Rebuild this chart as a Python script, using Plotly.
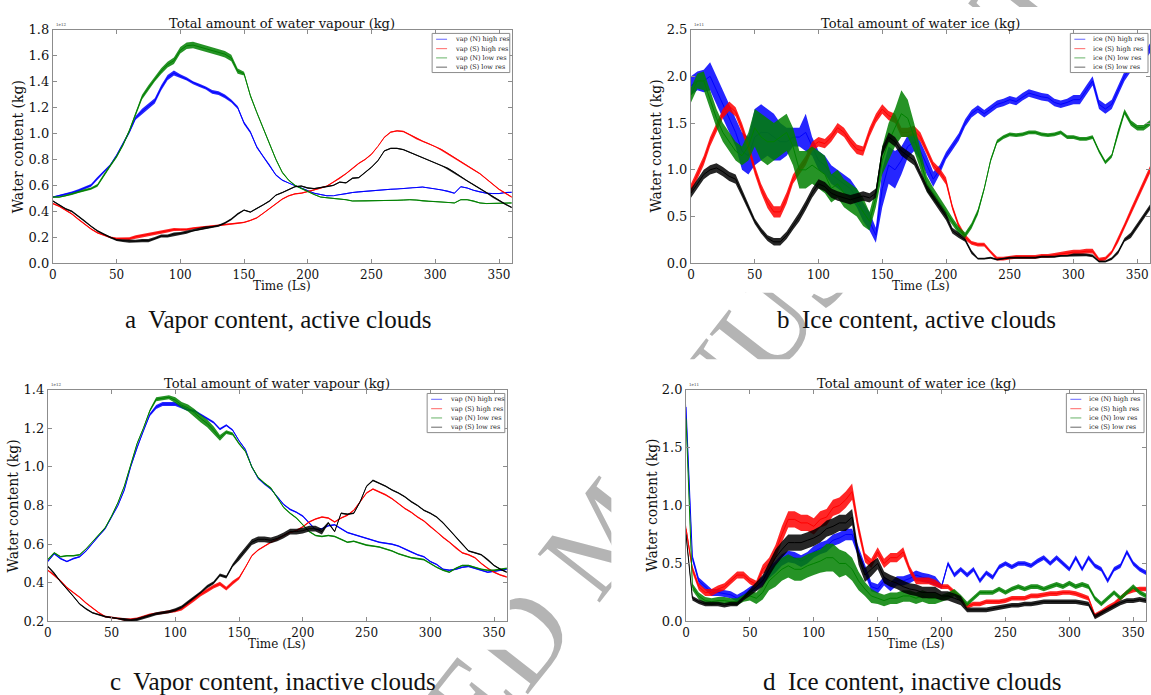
import plotly.graph_objects as go

# Solar longitude grid (degrees), one sample every 5 Ls
LS = list(range(0, 361, 5))

SERIES_NAMES_VAP = ["vap (N) high res", "vap (S) high res", "vap (N) low res", "vap (S) low res"]
SERIES_NAMES_ICE = ["ice (N) high res", "ice (S) high res", "ice (N) low res", "ice (S) low res"]

# ---------------- (a) vapour, active clouds  [x 1e12 kg] ----------------
a_vap_n_hi = [0.51, 0.52, 0.53, 0.545, 0.56, 0.58, 0.60, 0.655, 0.705, 0.755,
              0.83, 0.92, 1.01, 1.12, 1.17, 1.21, 1.25, 1.35, 1.43, 1.465,
              1.44, 1.42, 1.39, 1.37, 1.35, 1.32, 1.31, 1.285, 1.25, 1.20,
              1.08, 1.01, 0.895, 0.82, 0.755, 0.68, 0.64, 0.617, 0.597, 0.58,
              0.56, 0.54, 0.53, 0.52, 0.52, 0.53, 0.535, 0.545, 0.55, 0.555,
              0.56, 0.563, 0.567, 0.57, 0.572, 0.575, 0.58, 0.585, 0.587, 0.58,
              0.574, 0.565, 0.555, 0.54, 0.59, 0.58, 0.562, 0.55, 0.54, 0.537,
              0.537, 0.545, 0.547]
a_vap_s_hi = [0.46, 0.44, 0.41, 0.38, 0.34, 0.30, 0.265, 0.235, 0.215, 0.20,
              0.19, 0.19, 0.19, 0.205, 0.215, 0.225, 0.235, 0.24, 0.25, 0.26,
              0.26, 0.26, 0.27, 0.275, 0.28, 0.29, 0.295, 0.30, 0.305, 0.31,
              0.315, 0.33, 0.35, 0.385, 0.42, 0.46, 0.495, 0.52, 0.535, 0.54,
              0.55, 0.565, 0.58, 0.595, 0.625, 0.655, 0.69, 0.73, 0.77, 0.80,
              0.84, 0.90, 0.97, 1.01, 1.02, 1.015, 0.99, 0.96, 0.94, 0.92,
              0.90, 0.875, 0.845, 0.815, 0.78, 0.75, 0.72, 0.69, 0.65, 0.61,
              0.57, 0.54, 0.51]
a_vap_n_lo = [0.51, 0.51, 0.52, 0.535, 0.55, 0.565, 0.575, 0.60, 0.68, 0.75,
              0.82, 0.91, 1.02, 1.15, 1.28, 1.35, 1.42, 1.48, 1.53, 1.56,
              1.64, 1.675, 1.68, 1.665, 1.65, 1.64, 1.625, 1.61, 1.58, 1.48,
              1.46, 1.29, 1.16, 1.04, 0.92, 0.80, 0.70, 0.64, 0.60, 0.575,
              0.55, 0.53, 0.51, 0.505, 0.50, 0.497, 0.49, 0.48, 0.48, 0.48,
              0.48, 0.483, 0.485, 0.485, 0.485, 0.487, 0.49, 0.487, 0.48, 0.478,
              0.475, 0.472, 0.47, 0.465, 0.49, 0.49, 0.48, 0.465, 0.46, 0.46,
              0.46, 0.463, 0.465]
a_vap_s_lo = [0.48, 0.45, 0.42, 0.40, 0.365, 0.325, 0.285, 0.25, 0.225, 0.20,
              0.18, 0.175, 0.17, 0.17, 0.175, 0.175, 0.19, 0.21, 0.21, 0.225,
              0.23, 0.24, 0.255, 0.265, 0.275, 0.28, 0.29, 0.31, 0.34, 0.38,
              0.41, 0.395, 0.42, 0.45, 0.48, 0.525, 0.545, 0.565, 0.59, 0.595,
              0.58, 0.575, 0.585, 0.59, 0.60, 0.625, 0.62, 0.655, 0.66, 0.70,
              0.74, 0.79, 0.865, 0.885, 0.885, 0.875, 0.855, 0.83, 0.815, 0.795,
              0.775, 0.755, 0.73, 0.70, 0.665, 0.635, 0.605, 0.575, 0.545, 0.51,
              0.48, 0.455, 0.43]
# spread (half width of the fluctuation band) of each series
a_spr_n_hi = [0.005, 0.006, 0.008, 0.008, 0.01, 0.01, 0.01, 0.01, 0.008, 0.008,
              0.01, 0.01, 0.012, 0.015, 0.02, 0.02, 0.02, 0.02, 0.02, 0.02,
              0.015, 0.012, 0.012, 0.012, 0.012, 0.015, 0.015, 0.015, 0.012, 0.012,
              0.012, 0.01, 0.01, 0.01, 0.008, 0.006, 0.005, 0.004, 0.004, 0.004,
              0.004, 0.004, 0.004, 0.004, 0.004, 0.004, 0.004, 0.004, 0.004, 0.004,
              0.004, 0.004, 0.004, 0.004, 0.004, 0.004, 0.004, 0.004, 0.004, 0.004,
              0.004, 0.004, 0.004, 0.004, 0.004, 0.004, 0.004, 0.004, 0.004, 0.004,
              0.004, 0.004, 0.004]
a_spr_s_hi = [0.006, 0.006, 0.006, 0.006, 0.006, 0.006, 0.006, 0.006, 0.006, 0.006,
              0.008, 0.008, 0.01, 0.012, 0.012, 0.012, 0.012, 0.012, 0.012, 0.012,
              0.01, 0.01, 0.008, 0.008, 0.008, 0.008, 0.008, 0.008, 0.008, 0.008,
              0.005, 0.005, 0.005, 0.005, 0.005, 0.005, 0.005, 0.005, 0.005, 0.005,
              0.005, 0.005, 0.005, 0.005, 0.005, 0.005, 0.005, 0.005, 0.005, 0.005,
              0.005, 0.005, 0.005, 0.005, 0.005, 0.005, 0.005, 0.005, 0.005, 0.005,
              0.005, 0.005, 0.005, 0.005, 0.005, 0.005, 0.005, 0.005, 0.005, 0.005,
              0.005, 0.005, 0.005]
a_spr_n_lo = [0.005, 0.005, 0.006, 0.008, 0.008, 0.008, 0.008, 0.01, 0.01, 0.01,
              0.01, 0.01, 0.012, 0.015, 0.018, 0.02, 0.02, 0.022, 0.022, 0.025,
              0.025, 0.025, 0.025, 0.025, 0.025, 0.025, 0.025, 0.025, 0.025, 0.02,
              0.015, 0.012, 0.012, 0.012, 0.01, 0.008, 0.006, 0.005, 0.004, 0.004,
              0.004, 0.004, 0.004, 0.004, 0.004, 0.004, 0.004, 0.004, 0.004, 0.004,
              0.004, 0.004, 0.004, 0.004, 0.004, 0.004, 0.004, 0.004, 0.004, 0.004,
              0.004, 0.004, 0.004, 0.004, 0.004, 0.004, 0.004, 0.004, 0.004, 0.004,
              0.004, 0.004, 0.004]
a_spr_s_lo = [0.006, 0.006, 0.006, 0.006, 0.006, 0.006, 0.006, 0.006, 0.006, 0.006,
              0.008, 0.01, 0.012, 0.012, 0.012, 0.012, 0.012, 0.012, 0.012, 0.012,
              0.012, 0.012, 0.01, 0.01, 0.01, 0.008, 0.008, 0.008, 0.008, 0.008,
              0.005, 0.005, 0.005, 0.005, 0.005, 0.005, 0.005, 0.005, 0.005, 0.005,
              0.005, 0.005, 0.005, 0.005, 0.005, 0.005, 0.005, 0.005, 0.005, 0.005,
              0.005, 0.005, 0.005, 0.005, 0.005, 0.005, 0.005, 0.005, 0.005, 0.005,
              0.005, 0.005, 0.005, 0.005, 0.005, 0.005, 0.005, 0.005, 0.005, 0.005,
              0.005, 0.005, 0.005]

# ---------------- (b) ice, active clouds  [x 1e11 kg] ----------------
b_ice_n_hi = [1.9, 1.95, 1.95, 2.0, 1.85, 1.7, 1.55, 1.4, 1.2, 1.15,
              1.35, 1.4, 1.4, 1.35, 1.3, 1.3, 1.35, 1.35, 1.4, 1.25,
              1.1, 1.05, 0.95, 0.9, 0.85, 0.8, 0.7, 0.55, 0.45, 0.3,
              0.8, 1.05, 1.0, 1.1, 1.25, 1.3, 1.2, 1.05, 0.9, 1.0,
              1.15, 1.25, 1.35, 1.5, 1.6, 1.65, 1.6, 1.65, 1.7, 1.72,
              1.75, 1.73, 1.78, 1.82, 1.8, 1.78, 1.77, 1.72, 1.7, 1.72,
              1.75, 1.75, 1.85, 1.95, 1.7, 1.65, 1.7, 1.85, 2.0, 2.1,
              2.1, 2.2, 2.3]
b_ice_s_hi = [0.8, 0.95, 1.1, 1.3, 1.45, 1.6, 1.68, 1.62, 1.45, 1.25,
              1.0, 0.8, 0.65, 0.55, 0.55, 0.7, 0.9, 1.0, 1.1, 1.25,
              1.3, 1.28, 1.35, 1.45, 1.4, 1.3, 1.22, 1.2, 1.4, 1.55,
              1.65, 1.58, 1.55, 1.4, 1.4, 1.42, 1.35, 1.2, 1.05, 0.98,
              0.88, 0.6, 0.4, 0.28, 0.22, 0.2, 0.2, 0.12, 0.05, 0.05,
              0.06, 0.07, 0.07, 0.07, 0.07, 0.08, 0.08, 0.09, 0.1, 0.11,
              0.12, 0.12, 0.13, 0.13, 0.04, 0.05, 0.12, 0.25, 0.4, 0.55,
              0.7, 0.85, 1.0]
b_ice_n_lo = [1.8, 1.95, 1.95, 1.75, 1.55, 1.4, 1.3, 1.2, 1.15, 1.25,
              1.45, 1.35, 1.3, 1.3, 1.35, 1.4, 1.25, 1.0, 1.0, 1.05,
              1.0, 0.95, 0.8, 0.85, 0.75, 0.7, 0.65, 0.55, 0.45, 0.7,
              1.1, 1.3, 1.45, 1.6, 1.55, 1.35, 1.1, 0.85, 0.75, 0.65,
              0.55, 0.45, 0.35, 0.3, 0.4, 0.55, 0.8, 1.1, 1.3, 1.35,
              1.38, 1.37, 1.38, 1.4, 1.4, 1.38, 1.37, 1.38, 1.4, 1.35,
              1.35, 1.33, 1.33, 1.35, 1.2, 1.08, 1.15, 1.4, 1.62, 1.5,
              1.45, 1.45, 1.5]
b_ice_s_lo = [0.75, 0.85, 0.95, 1.0, 1.02, 0.98, 0.93, 0.9, 0.75, 0.6,
              0.45, 0.35, 0.27, 0.23, 0.23, 0.3, 0.4, 0.5, 0.62, 0.75,
              0.85, 0.82, 0.75, 0.72, 0.7, 0.68, 0.7, 0.72, 0.7, 0.75,
              1.2, 1.35, 1.3, 1.2, 1.15, 1.1, 0.95, 0.8, 0.7, 0.6,
              0.5, 0.35, 0.3, 0.25, 0.12, 0.05, 0.05, 0.06, 0.04, 0.05,
              0.06, 0.06, 0.06, 0.06, 0.06, 0.07, 0.07, 0.07, 0.08, 0.08,
              0.09, 0.09, 0.09, 0.08, 0.02, 0.02, 0.05, 0.12, 0.25, 0.3,
              0.4, 0.5, 0.6]
b_spr_n_hi = [0.1, 0.1, 0.12, 0.15, 0.15, 0.15, 0.15, 0.15, 0.2, 0.2,
              0.3, 0.3, 0.25, 0.25, 0.2, 0.15, 0.1, 0.1, 0.2, 0.1,
              0.1, 0.1, 0.1, 0.1, 0.1, 0.1, 0.1, 0.1, 0.1, 0.08,
              0.2, 0.2, 0.2, 0.15, 0.12, 0.1, 0.1, 0.1, 0.08, 0.05,
              0.04, 0.04, 0.04, 0.04, 0.04, 0.04, 0.04, 0.04, 0.04, 0.04,
              0.04, 0.04, 0.04, 0.04, 0.04, 0.04, 0.04, 0.04, 0.04, 0.04,
              0.05, 0.05, 0.05, 0.05, 0.05, 0.05, 0.05, 0.05, 0.05, 0.05,
              0.05, 0.05, 0.05]
b_spr_s_hi = [0.05, 0.05, 0.05, 0.05, 0.05, 0.05, 0.05, 0.05, 0.05, 0.05,
              0.05, 0.05, 0.06, 0.06, 0.06, 0.06, 0.05, 0.05, 0.05, 0.05,
              0.05, 0.05, 0.05, 0.05, 0.05, 0.05, 0.05, 0.05, 0.05, 0.05,
              0.05, 0.05, 0.05, 0.05, 0.05, 0.05, 0.05, 0.04, 0.04, 0.04,
              0.04, 0.03, 0.03, 0.03, 0.02, 0.02, 0.02, 0.02, 0.02, 0.02,
              0.02, 0.02, 0.02, 0.02, 0.02, 0.02, 0.02, 0.02, 0.025, 0.025,
              0.025, 0.025, 0.025, 0.025, 0.02, 0.02, 0.02, 0.03, 0.03, 0.04,
              0.04, 0.04, 0.04]
b_spr_n_lo = [0.08, 0.08, 0.1, 0.1, 0.1, 0.1, 0.1, 0.1, 0.1, 0.15,
              0.2, 0.25, 0.25, 0.2, 0.2, 0.2, 0.2, 0.2, 0.2, 0.2,
              0.2, 0.2, 0.15, 0.15, 0.15, 0.15, 0.15, 0.15, 0.1, 0.1,
              0.15, 0.2, 0.2, 0.25, 0.2, 0.15, 0.1, 0.08, 0.06, 0.06,
              0.05, 0.04, 0.04, 0.03, 0.03, 0.03, 0.02, 0.02, 0.02, 0.02,
              0.02, 0.02, 0.02, 0.02, 0.02, 0.02, 0.02, 0.02, 0.02, 0.02,
              0.02, 0.02, 0.02, 0.02, 0.02, 0.02, 0.02, 0.03, 0.03, 0.03,
              0.03, 0.03, 0.03]
b_spr_s_lo = [0.05, 0.05, 0.05, 0.05, 0.05, 0.05, 0.05, 0.05, 0.04, 0.03,
              0.03, 0.03, 0.03, 0.04, 0.04, 0.04, 0.04, 0.05, 0.05, 0.05,
              0.05, 0.05, 0.05, 0.05, 0.05, 0.05, 0.05, 0.05, 0.05, 0.05,
              0.05, 0.05, 0.05, 0.05, 0.05, 0.05, 0.04, 0.04, 0.04, 0.04,
              0.04, 0.03, 0.03, 0.02, 0.02, 0.01, 0.01, 0.01, 0.01, 0.01,
              0.01, 0.01, 0.01, 0.01, 0.01, 0.01, 0.01, 0.01, 0.01, 0.01,
              0.015, 0.015, 0.015, 0.015, 0.01, 0.01, 0.015, 0.02, 0.02, 0.03,
              0.03, 0.03, 0.03]

# ---------------- (c) vapour, inactive clouds  [x 1e12 kg] ----------------
c_vap_n_hi = [0.51, 0.55, 0.525, 0.51, 0.525, 0.535, 0.565, 0.605, 0.645, 0.68,
              0.74, 0.80, 0.88, 1.0, 1.1, 1.19, 1.27, 1.31, 1.325, 1.325,
              1.325, 1.31, 1.295, 1.29, 1.27, 1.25, 1.23, 1.195, 1.215, 1.19,
              1.135, 1.09, 1.0, 0.94, 0.91, 0.885, 0.845, 0.805, 0.78, 0.765,
              0.745, 0.71, 0.675, 0.68, 0.695, 0.70, 0.68, 0.66, 0.65, 0.64,
              0.63, 0.62, 0.61, 0.605, 0.60, 0.59, 0.575, 0.56, 0.545, 0.535,
              0.51, 0.495, 0.47, 0.465, 0.47, 0.48, 0.485, 0.475, 0.465, 0.455,
              0.46, 0.465, 0.47]
c_vap_s_hi = [0.465, 0.44, 0.41, 0.375, 0.35, 0.325, 0.295, 0.27, 0.245, 0.225,
              0.22, 0.215, 0.21, 0.21, 0.215, 0.225, 0.235, 0.24, 0.245, 0.25,
              0.255, 0.265, 0.29, 0.315, 0.34, 0.36, 0.38, 0.395, 0.37, 0.40,
              0.425, 0.48, 0.54, 0.57, 0.59, 0.61, 0.625, 0.645, 0.66, 0.67,
              0.69, 0.715, 0.73, 0.74, 0.735, 0.715, 0.735, 0.75, 0.775, 0.82,
              0.865, 0.885, 0.87, 0.855, 0.835, 0.81, 0.785, 0.765, 0.74, 0.72,
              0.69, 0.665, 0.635, 0.61, 0.58, 0.555, 0.545, 0.53, 0.50, 0.475,
              0.455, 0.44, 0.43]
c_vap_n_lo = [0.52, 0.555, 0.535, 0.54, 0.54, 0.545, 0.575, 0.61, 0.65, 0.685,
              0.745, 0.815, 0.90, 1.01, 1.12, 1.20, 1.29, 1.35, 1.355, 1.36,
              1.345, 1.32, 1.305, 1.28, 1.25, 1.225, 1.19, 1.15, 1.18, 1.17,
              1.12, 1.08, 1.0, 0.945, 0.915, 0.89, 0.84, 0.79, 0.76, 0.735,
              0.70, 0.665, 0.645, 0.64, 0.645, 0.64, 0.625, 0.61, 0.615, 0.605,
              0.595, 0.59, 0.585, 0.575, 0.565, 0.55, 0.54, 0.53, 0.525, 0.52,
              0.50, 0.48, 0.465, 0.455, 0.475, 0.49, 0.49, 0.48, 0.47, 0.465,
              0.465, 0.47, 0.475]
c_vap_s_lo = [0.485, 0.45, 0.405, 0.37, 0.33, 0.29, 0.265, 0.245, 0.235, 0.225,
              0.22, 0.215, 0.21, 0.205, 0.21, 0.22, 0.23, 0.24, 0.245, 0.25,
              0.26, 0.275, 0.30, 0.325, 0.35, 0.38, 0.40, 0.44, 0.43, 0.49,
              0.53, 0.57, 0.61, 0.625, 0.625, 0.62, 0.63, 0.645, 0.665, 0.665,
              0.67, 0.68, 0.68, 0.665, 0.71, 0.665, 0.76, 0.755, 0.76, 0.82,
              0.90, 0.93, 0.915, 0.90, 0.88, 0.865, 0.845, 0.82, 0.80, 0.775,
              0.76, 0.74, 0.71, 0.675, 0.64, 0.60, 0.565, 0.555, 0.545, 0.52,
              0.49, 0.47, 0.455]
c_spr_n_hi = [0.004, 0.004, 0.004, 0.004, 0.004, 0.004, 0.004, 0.004, 0.004, 0.004,
              0.004, 0.004, 0.005, 0.005, 0.006, 0.006, 0.008, 0.01, 0.01, 0.01,
              0.01, 0.008, 0.006, 0.006, 0.006, 0.006, 0.006, 0.006, 0.005, 0.005,
              0.004, 0.004, 0.004, 0.004, 0.004, 0.004, 0.004, 0.004, 0.004, 0.004,
              0.004, 0.004, 0.004, 0.004, 0.004, 0.004, 0.004, 0.004, 0.004, 0.004,
              0.004, 0.004, 0.004, 0.004, 0.004, 0.004, 0.004, 0.004, 0.004, 0.004,
              0.004, 0.004, 0.004, 0.004, 0.004, 0.004, 0.004, 0.004, 0.004, 0.004,
              0.004, 0.004, 0.004]
c_spr_s_hi = [0.004, 0.004, 0.004, 0.004, 0.004, 0.004, 0.004, 0.004, 0.004, 0.004,
              0.004, 0.004, 0.006, 0.006, 0.006, 0.006, 0.006, 0.006, 0.008, 0.008,
              0.008, 0.008, 0.01, 0.01, 0.01, 0.01, 0.01, 0.01, 0.01, 0.01,
              0.008, 0.006, 0.004, 0.004, 0.004, 0.004, 0.004, 0.004, 0.004, 0.004,
              0.004, 0.004, 0.004, 0.004, 0.004, 0.004, 0.004, 0.004, 0.004, 0.004,
              0.004, 0.004, 0.004, 0.004, 0.004, 0.004, 0.004, 0.004, 0.004, 0.004,
              0.004, 0.004, 0.004, 0.004, 0.004, 0.004, 0.004, 0.004, 0.004, 0.004,
              0.004, 0.004, 0.004]
c_spr_n_lo = [0.004, 0.004, 0.004, 0.004, 0.004, 0.004, 0.004, 0.004, 0.004, 0.004,
              0.004, 0.004, 0.005, 0.005, 0.006, 0.006, 0.008, 0.01, 0.01, 0.01,
              0.015, 0.015, 0.018, 0.02, 0.02, 0.02, 0.02, 0.015, 0.01, 0.008,
              0.006, 0.005, 0.004, 0.004, 0.004, 0.004, 0.004, 0.004, 0.004, 0.004,
              0.004, 0.004, 0.004, 0.004, 0.004, 0.004, 0.004, 0.004, 0.004, 0.004,
              0.004, 0.004, 0.004, 0.004, 0.004, 0.004, 0.004, 0.004, 0.004, 0.004,
              0.004, 0.004, 0.004, 0.004, 0.004, 0.004, 0.004, 0.004, 0.004, 0.004,
              0.004, 0.004, 0.004]
c_spr_s_lo = [0.004, 0.004, 0.004, 0.004, 0.004, 0.004, 0.004, 0.004, 0.004, 0.004,
              0.004, 0.004, 0.008, 0.008, 0.008, 0.008, 0.008, 0.008, 0.008, 0.008,
              0.008, 0.008, 0.008, 0.008, 0.008, 0.008, 0.008, 0.008, 0.008, 0.008,
              0.015, 0.015, 0.015, 0.015, 0.015, 0.015, 0.015, 0.015, 0.015, 0.015,
              0.015, 0.015, 0.015, 0.015, 0.006, 0.004, 0.004, 0.004, 0.004, 0.004,
              0.004, 0.004, 0.004, 0.004, 0.004, 0.004, 0.004, 0.004, 0.004, 0.004,
              0.004, 0.004, 0.004, 0.004, 0.004, 0.004, 0.004, 0.004, 0.004, 0.004,
              0.004, 0.004, 0.004]

# ---------------- (d) ice, inactive clouds  [x 1e11 kg] ----------------
d_ice_n_hi = [1.85, 0.55, 0.35, 0.3, 0.25, 0.25, 0.24, 0.23, 0.2, 0.23,
              0.27, 0.3, 0.35, 0.42, 0.47, 0.53, 0.56, 0.55, 0.52, 0.55,
              0.6, 0.63, 0.65, 0.7, 0.72, 0.75, 0.75, 0.6, 0.45, 0.3,
              0.28, 0.35, 0.3, 0.35, 0.35, 0.37, 0.4, 0.38, 0.37, 0.35,
              0.3, 0.5, 0.4, 0.45, 0.4, 0.45, 0.35, 0.42, 0.38, 0.47,
              0.5, 0.47, 0.5, 0.5, 0.48, 0.52, 0.55, 0.5, 0.55, 0.5,
              0.45, 0.55, 0.45, 0.55, 0.48, 0.45, 0.35, 0.45, 0.48, 0.6,
              0.5, 0.45, 0.42]
d_ice_s_hi = [0.8, 0.45, 0.3, 0.25, 0.25, 0.28, 0.3, 0.35, 0.4, 0.4,
              0.35, 0.32, 0.45, 0.5, 0.6, 0.75, 0.88, 0.88, 0.85, 0.85,
              0.82, 0.88, 0.9, 0.98, 1.0, 1.05, 1.12, 0.8, 0.55, 0.5,
              0.6, 0.5, 0.55, 0.55, 0.6, 0.45, 0.35, 0.35, 0.35, 0.33,
              0.3, 0.3, 0.25, 0.2, 0.13, 0.15, 0.15, 0.17, 0.17, 0.17,
              0.18, 0.2, 0.2, 0.2, 0.22, 0.22, 0.23, 0.24, 0.24, 0.25,
              0.25, 0.24, 0.22, 0.2, 0.05, 0.08, 0.12, 0.15, 0.2, 0.25,
              0.27, 0.28, 0.28]
d_ice_n_lo = [1.75, 0.3, 0.22, 0.18, 0.17, 0.18, 0.18, 0.17, 0.17, 0.2,
              0.22, 0.2, 0.25, 0.35, 0.4, 0.45, 0.48, 0.45, 0.45, 0.48,
              0.5, 0.52, 0.55, 0.55, 0.5, 0.5, 0.45, 0.35, 0.28, 0.22,
              0.2, 0.18, 0.2, 0.2, 0.22, 0.22, 0.2, 0.22, 0.2, 0.2,
              0.2, 0.22, 0.25, 0.2, 0.15, 0.2, 0.25, 0.25, 0.25, 0.28,
              0.25, 0.28, 0.3, 0.28, 0.3, 0.3, 0.28, 0.3, 0.32, 0.3,
              0.33, 0.3, 0.32, 0.3, 0.2, 0.15, 0.2, 0.25, 0.2, 0.25,
              0.3, 0.25, 0.22]
d_ice_s_lo = [0.75, 0.2, 0.17, 0.15, 0.15, 0.15, 0.14, 0.15, 0.15, 0.2,
              0.25, 0.3, 0.35, 0.45, 0.55, 0.62, 0.68, 0.68, 0.68, 0.7,
              0.72, 0.75, 0.8, 0.82, 0.85, 0.85, 0.9, 0.55, 0.4, 0.45,
              0.5, 0.38, 0.35, 0.33, 0.3, 0.28, 0.27, 0.25, 0.25, 0.25,
              0.22, 0.22, 0.2, 0.18, 0.1, 0.1, 0.1, 0.1, 0.11, 0.12,
              0.13, 0.14, 0.14, 0.15, 0.15, 0.16, 0.17, 0.17, 0.17, 0.17,
              0.17, 0.17, 0.16, 0.15, 0.04, 0.07, 0.1, 0.13, 0.16, 0.18,
              0.18, 0.19, 0.18]
d_spr_n_hi = [0.03, 0.03, 0.03, 0.03, 0.03, 0.03, 0.03, 0.03, 0.03, 0.03,
              0.03, 0.03, 0.04, 0.05, 0.05, 0.05, 0.05, 0.05, 0.05, 0.05,
              0.05, 0.05, 0.05, 0.05, 0.05, 0.05, 0.05, 0.05, 0.05, 0.04,
              0.04, 0.04, 0.04, 0.04, 0.04, 0.04, 0.04, 0.04, 0.04, 0.04,
              0.02, 0.02, 0.02, 0.02, 0.02, 0.02, 0.02, 0.02, 0.02, 0.02,
              0.02, 0.02, 0.02, 0.02, 0.02, 0.02, 0.02, 0.02, 0.02, 0.02,
              0.02, 0.02, 0.02, 0.02, 0.02, 0.02, 0.02, 0.02, 0.02, 0.02,
              0.02, 0.02, 0.02]
d_spr_s_hi = [0.03, 0.03, 0.03, 0.03, 0.03, 0.03, 0.03, 0.03, 0.03, 0.03,
              0.03, 0.03, 0.04, 0.05, 0.06, 0.07, 0.07, 0.07, 0.07, 0.07,
              0.07, 0.07, 0.07, 0.07, 0.07, 0.07, 0.07, 0.05, 0.04, 0.04,
              0.04, 0.04, 0.04, 0.04, 0.04, 0.03, 0.03, 0.03, 0.03, 0.03,
              0.02, 0.02, 0.02, 0.02, 0.02, 0.02, 0.02, 0.02, 0.02, 0.02,
              0.02, 0.02, 0.02, 0.02, 0.02, 0.02, 0.02, 0.02, 0.02, 0.02,
              0.02, 0.02, 0.02, 0.02, 0.02, 0.02, 0.02, 0.02, 0.02, 0.02,
              0.02, 0.02, 0.02]
d_spr_n_lo = [0.03, 0.03, 0.03, 0.03, 0.03, 0.03, 0.03, 0.03, 0.03, 0.03,
              0.04, 0.05, 0.06, 0.08, 0.1, 0.1, 0.1, 0.1, 0.1, 0.1,
              0.1, 0.1, 0.12, 0.12, 0.12, 0.1, 0.1, 0.08, 0.06, 0.06,
              0.05, 0.05, 0.05, 0.05, 0.05, 0.05, 0.05, 0.05, 0.05, 0.05,
              0.03, 0.03, 0.03, 0.03, 0.02, 0.02, 0.02, 0.02, 0.02, 0.02,
              0.02, 0.02, 0.02, 0.02, 0.02, 0.02, 0.02, 0.02, 0.02, 0.02,
              0.02, 0.02, 0.02, 0.02, 0.02, 0.02, 0.02, 0.02, 0.02, 0.02,
              0.02, 0.02, 0.02]
d_spr_s_lo = [0.02, 0.02, 0.02, 0.02, 0.02, 0.02, 0.02, 0.02, 0.02, 0.02,
              0.03, 0.04, 0.05, 0.06, 0.07, 0.07, 0.07, 0.07, 0.07, 0.07,
              0.07, 0.07, 0.07, 0.07, 0.07, 0.07, 0.07, 0.06, 0.06, 0.06,
              0.05, 0.05, 0.05, 0.05, 0.05, 0.05, 0.05, 0.05, 0.05, 0.05,
              0.04, 0.04, 0.04, 0.04, 0.02, 0.02, 0.02, 0.02, 0.02, 0.02,
              0.02, 0.02, 0.02, 0.02, 0.02, 0.02, 0.02, 0.02, 0.02, 0.02,
              0.02, 0.02, 0.02, 0.02, 0.02, 0.02, 0.02, 0.02, 0.02, 0.02,
              0.02, 0.02, 0.02]

# ---------------- layout constants ----------------
W, H = 1151, 695
COLORS = ["#0000ff", "#ff0000", "#008000", "#000000"]
LEGEND_COLORS = ["#7f7fff", "#ff8080", "#80bf80", "#808080"]
FRAME = "#8c8c8c"
SERIF = "DejaVu Serif, serif"
CAPTION_FONT = "Liberation Serif, serif"

# pixel boxes of the four plotting areas: (left, right, top, bottom)
BOXES = {
    "a": (49, 510, 23, 262),
    "b": (690, 1151, 23, 262),
    "c": (44, 505, 391, 628),
    "d": (685, 1147, 391, 628),
}
# white sheets behind each panel (its whole figure block), pixels
SHEETS = [(0, 0, 515, 295), (620, 0, 1151, 292), (0, 362, 508, 657), (610, 360, 1151, 657)]

PANELS = [
    dict(key="a", ax="", names=SERIES_NAMES_VAP, yrange=[0, 1.8], dtick=0.2,
         expo="1e12", title="Total amount of water vapour (kg)",
         caption="a  Vapor content, active clouds", cap_dy=57,
         series=[a_vap_n_hi, a_vap_s_hi, a_vap_n_lo, a_vap_s_lo],
         spread=[a_spr_n_hi, a_spr_s_hi, a_spr_n_lo, a_spr_s_lo]),
    dict(key="b", ax="2", names=SERIES_NAMES_ICE, yrange=[0, 2.5], dtick=0.5,
         expo="1e11", title="Total amount of water ice (kg)",
         caption="b  Ice content, active clouds", cap_dy=57,
         series=[b_ice_n_hi, b_ice_s_hi, b_ice_n_lo, b_ice_s_lo],
         spread=[b_spr_n_hi, b_spr_s_hi, b_spr_n_lo, b_spr_s_lo]),
    dict(key="c", ax="3", names=SERIES_NAMES_VAP, yrange=[0.2, 1.4], dtick=0.2,
         expo="1e12", title="Total amount of water vapour (kg)",
         caption="c  Vapor content, inactive clouds", cap_dy=61,
         series=[c_vap_n_hi, c_vap_s_hi, c_vap_n_lo, c_vap_s_lo],
         spread=[c_spr_n_hi, c_spr_s_hi, c_spr_n_lo, c_spr_s_lo]),
    dict(key="d", ax="4", names=SERIES_NAMES_ICE, yrange=[0, 2.0], dtick=0.5,
         expo="1e11", title="Total amount of water ice (kg)",
         caption="d  Ice content, inactive clouds", cap_dy=61,
         series=[d_ice_n_hi, d_ice_s_hi, d_ice_n_lo, d_ice_s_lo],
         spread=[d_spr_n_hi, d_spr_s_hi, d_spr_n_lo, d_spr_s_lo]),
]


def px(x):
    return min(max(x / W, 0.0), 1.0)


def py(y):
    return min(max(1 - y / H, 0.0), 1.0)


def paper_text(text, x, y, size, family=SERIF, angle=0, xanchor="center",
               yanchor="middle", color="#111"):
    return dict(text=text, x=px(x), y=py(y), xref="paper", yref="paper",
                showarrow=False, textangle=angle, xanchor=xanchor, yanchor=yanchor,
                font=dict(family=family, size=size, color=color))


fig = go.Figure()
annotations = []
shapes = []
layout_axes = {}

# diagonal manuscript stamp, then white sheets masking it under each panel
STAMP_CX, STAMP_CY = 592, 528
shapes.append(dict(
    type="rect", xref="paper", yref="paper", layer="below",
    x0=(STAMP_CX - 200) / W, x1=(STAMP_CX + 200) / W,
    y0=1 - (STAMP_CY + 200) / H, y1=1 - (STAMP_CY - 200) / H,
    line=dict(width=0), fillcolor="rgba(0,0,0,0)",
    label=dict(text="ACCEPTED MANUSCRIPT", textangle=-52, textposition="middle center",
               font=dict(family="Liberation Serif", size=120, color="#b4b4b4")),
))
for x0, y0, x1, y1 in SHEETS:
    shapes.append(dict(type="rect", xref="paper", yref="paper", layer="below",
                       x0=px(x0), x1=px(x1), y0=py(y1), y1=py(y0),
                       line=dict(width=0), fillcolor="white"))

for p in PANELS:
    left, right, top, bottom = BOXES[p["key"]]
    xa, ya = "x" + p["ax"], "y" + p["ax"]

    # fluctuation bands, then the running mean line, series by series
    for name, vals, spr, col in zip(p["names"], p["series"], p["spread"], COLORS):
        upper = [v + s for v, s in zip(vals, spr)]
        lower = [v - s for v, s in zip(vals, spr)]
        fig.add_trace(go.Scatter(
            x=LS + LS[::-1], y=upper + lower[::-1], xaxis=xa, yaxis=ya,
            fill="toself", fillcolor=col, line=dict(width=0), mode="lines",
            opacity=0.85, hoverinfo="skip", showlegend=False))
        fig.add_trace(go.Scatter(
            x=LS, y=vals, xaxis=xa, yaxis=ya, mode="lines",
            line=dict(color=col, width=1), name=name, showlegend=False))

    axis_common = dict(
        showline=True, linecolor=FRAME, linewidth=1, mirror="ticks",
        ticks="inside", ticklen=4, tickcolor=FRAME, tickwidth=1,
        showgrid=False, zeroline=False,
    )
    layout_axes["xaxis" + p["ax"]] = dict(
        axis_common, domain=[px(left), px(right)], anchor=ya, range=[0, 360],
        tick0=0, dtick=50, tickfont=dict(family=SERIF, size=12, color="#111"),
    )
    layout_axes["yaxis" + p["ax"]] = dict(
        axis_common, domain=[py(bottom), py(top)], anchor=xa, range=p["yrange"],
        tick0=0, dtick=p["dtick"], tickformat=".1f",
        tickfont=dict(family=SERIF, size=13, color="#111"),
    )

    # boxed key in the upper right corner of the panel
    lg_r, lg_t = right - 2, top + 4
    lg_l, lg_b = lg_r - 78, lg_t + 40
    shapes.append(dict(type="rect", xref="paper", yref="paper", layer="above",
                       x0=px(lg_l), x1=px(lg_r), y0=py(lg_b), y1=py(lg_t),
                       line=dict(color=FRAME, width=1), fillcolor="white"))
    for k, (name, lcol) in enumerate(zip(p["names"], LEGEND_COLORS)):
        row_y = lg_t + 6 + 9.5 * k
        shapes.append(dict(type="line", xref="paper", yref="paper", layer="above",
                           x0=px(lg_l + 4), x1=px(lg_l + 15), y0=py(row_y), y1=py(row_y),
                           line=dict(color=lcol, width=1.2)))
        annotations.append(paper_text(name, lg_l + 21, row_y, 6.5,
                                      xanchor="left", color="#222"))

    cx = (left + right) / 2
    cy = (top + bottom) / 2
    annotations += [
        paper_text(p["title"], cx, top - 6, 13),
        paper_text(p["expo"], left + 1, top - 0.5, 4, xanchor="left",
                   yanchor="bottom", color="#444"),
        paper_text("Water content (kg)", left - 35, cy, 14, angle=-90),
        paper_text("Time (Ls)", cx, bottom + 23, 12),
        paper_text(p["caption"], cx - 4, bottom + p["cap_dy"], 25, family=CAPTION_FONT),
    ]

fig.update_layout(
    width=W, height=H, margin=dict(l=0, r=0, t=0, b=0),
    paper_bgcolor="white", plot_bgcolor="rgba(0,0,0,0)", showlegend=False,
    annotations=annotations, shapes=shapes, **layout_axes,
)

fig.write_html("out.html")
